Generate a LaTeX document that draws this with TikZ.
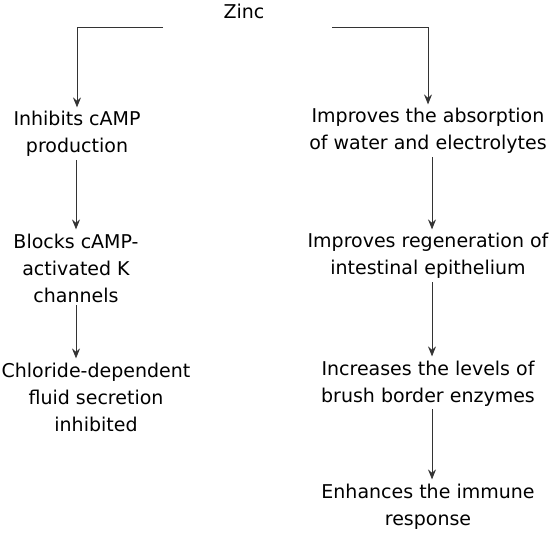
\documentclass[tikz,border=0pt]{standalone}
\usepackage{fontspec}
\setmainfont{DejaVu Sans}
\usetikzlibrary{positioning,arrows.meta}

\begin{document}
\begin{tikzpicture}[
  x=1pt, y=-1pt,
  >={Stealth[length=10pt,width=8pt,inset=3.5pt]},
  effect/.style={align=center, inner sep=0pt, anchor=base,
                 font=\fontsize{19}{27}\selectfont},
  flow/.style={->, draw=black!80, line width=0.8pt,
               shorten <=3pt, shorten >=4pt}
]
\useasboundingbox (0,0) rectangle (551,534);

% --- Top ---
\node[effect] (zinc) at (244,19) {Zinc};
\coordinate (lfork) at (163,27);
\coordinate (rfork) at (332,27);

% --- Left branch (positions are at the last baseline) ---
\node[effect] (camp) at (77,153) {Inhibits cAMP\\production};
\node[effect] (block) at (76,302) {Blocks cAMP-\\activated K\\channels};
\node[effect] (chloride) at (96,431) {Chloride-dependent\\fluid secretion\\inhibited};

% --- Right branch ---
\node[effect] (absorb) at (428,150) {Improves the absorption\\of water and electrolytes};
\node[effect] (regen) at (428,275) {Improves regeneration of\\intestinal epithelium};
\node[effect] (enzyme) at (428,402) {Increases the levels of\\brush border enzymes};
\node[effect] (immune) at (428,525) {Enhances the immune\\response};

% --- Arrows ---
\draw[flow, shorten <=0pt] (lfork) -| (camp.north);
\draw[flow, shorten <=0pt] (rfork) -| (absorb.north);
\draw[flow] (block.south |- camp.south) -- (block.north);
\draw[flow] (block.south) -- (block.south |- chloride.north);
\draw[flow] ([xshift=4pt]absorb.south) -- ([xshift=4pt]regen.north);
\draw[flow] ([xshift=4pt]regen.south) -- ([xshift=4pt]enzyme.north);
\draw[flow] ([xshift=4pt]enzyme.south) -- ([xshift=4pt]immune.north);

\end{tikzpicture}
\end{document}
